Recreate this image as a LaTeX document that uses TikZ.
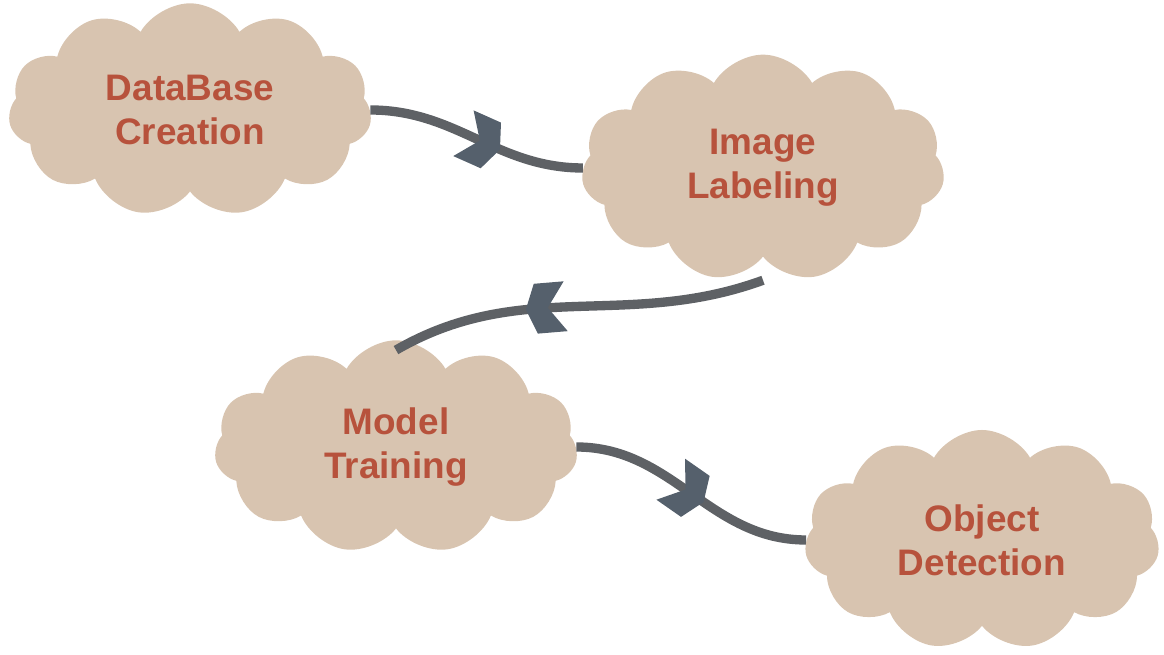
\documentclass[tikz,border=0pt]{standalone}
\usepackage{fontspec}
\setmainfont{Liberation Sans}
\usetikzlibrary{shapes.symbols,decorations.markings}
\definecolor{cloudtan}{RGB}{216,196,176}
\definecolor{labelred}{RGB}{183,82,60}
\definecolor{linegray}{RGB}{94,97,101}
\definecolor{tipgray}{RGB}{85,96,108}

\tikzset{
  stage/.style={cloud, cloud puffs=11, cloud puff arc=120, cloud ignores aspect,
    fill=cloudtan, text=labelred, align=center, inner sep=0pt,
    font=\fontsize{31.5}{37.5}\selectfont\bfseries,
    minimum width=10.9cm, minimum height=6.4cm},
  flow/.style={linegray, line width=0.28cm, postaction={decorate},
    decoration={markings, mark=at position #1 with
      {\fill[tipgray] (10,0) -- (0,25) -- (-30,25) -- (-12,0) -- (-30,-25) -- (0,-25) -- cycle;}}},
  flow/.default=0.5
}

\begin{document}
\begin{tikzpicture}[x=0.03cm, y=0.03cm]
    \useasboundingbox (0,0) rectangle (1164,655);
    % Clouds
    \node[stage] (db) at (190,545) {DataBase\\Creation};
    \node[stage, minimum height=6.8cm] (lab) at (763,487) {Image\\Labeling};
    \node[stage] (train) at (396,208) {Model\\Training};
    \node[stage, minimum width=10.65cm, minimum height=6.6cm] (det) at (982,115) {Object\\Detection};
    % Connectors
    \coordinate (labout) at ([yshift=-0.7cm]lab.south);
    \coordinate (trainin) at ([yshift=-0.3cm]train.north);
    \draw[flow=0.57] (db.east) to[out=0, in=180] (lab.west);
    \draw[flow=0.61] (labout) to[out=-160, in=30] (trainin);
    \draw[flow=0.52] (train.east) to[out=0, in=180] (det.west);
\end{tikzpicture}
\end{document}
